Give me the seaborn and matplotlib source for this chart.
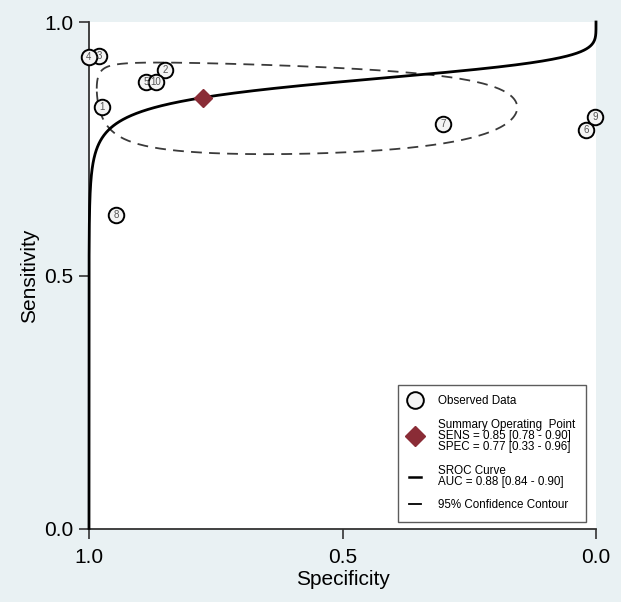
import numpy as np
import pandas as pd
import seaborn as sns
import matplotlib.pyplot as plt
from matplotlib.lines import Line2D

# observed studies
study_id = ["1", "2", "3", "4", "5", "6", "7", "8", "9", "10"]
specificity = [0.974, 0.850, 0.980, 1.000, 0.888, 0.020, 0.302, 0.947, 0.002, 0.868]
sensitivity = [0.832, 0.905, 0.933, 0.931, 0.882, 0.787, 0.799, 0.619, 0.813, 0.882]

# summary operating point and SROC / contour parameters (logit scale)
summary_sens = 0.851
summary_spec = 0.775
sroc_slope = 0.22
contour_half_spec = 2.93
contour_half_sens = 0.70
contour_rho = 0.21

legend_labels = [
    "Observed Data",
    "Summary Operating  Point\nSENS = 0.85 [0.78 - 0.90]\nSPEC = 0.77 [0.33 - 0.96]",
    "SROC Curve\nAUC = 0.88 [0.84 - 0.90]",
    "95% Confidence Contour",
]


def logit(p):
    return np.log(p / (1 - p))


def expit(x):
    return 1 / (1 + np.exp(-x))


plt.rcParams['font.family'] = ['Liberation Sans', 'DejaVu Sans']
bg = '#e9f1f3'
fig = plt.figure(figsize=(6.21, 6.02), dpi=100, facecolor=bg)
ax = fig.add_axes([89 / 621, 1 - 529 / 602, 507 / 621, 507 / 602])
ax.set_facecolor('white')

# SROC curve
lf = np.linspace(-40, 40, 4000)
curve_sens = expit(logit(summary_sens) + sroc_slope * (lf - logit(1 - summary_spec)))
curve_spec = 1 - expit(lf)
ax.plot(curve_spec, curve_sens, color='black', lw=2.0, zorder=3, clip_on=False)

# confidence contour
t = np.linspace(0, 2 * np.pi, 400)
cx = logit(summary_spec) + contour_half_spec * np.cos(t)
cy = logit(summary_sens) + contour_half_sens * (contour_rho * np.cos(t) + np.sqrt(1 - contour_rho ** 2) * np.sin(t))
ax.plot(expit(cx), expit(cy), color='#3a3a3a', lw=1.3, ls=(0, (6, 4)), zorder=2)

# observed data
df = pd.DataFrame({"spec": specificity, "sens": sensitivity, "id": study_id})
sns.scatterplot(data=df, x="spec", y="sens", ax=ax, s=125, marker='o',
                facecolor='#f4f4f4', edgecolor='black', linewidth=1.4,
                zorder=4, clip_on=False, legend=False)
for _, r in df.iterrows():
    ax.text(r["spec"], r["sens"], r["id"], ha='center', va='center',
            fontsize=7, color='#555555', zorder=5)

# summary point
ax.plot([summary_spec], [summary_sens], marker='D', ms=9, color='#8a2c36',
        ls='none', zorder=6)

ax.set_xlim(1, 0)
ax.set_ylim(0, 1)
ax.set_xticks([1.0, 0.5, 0.0])
ax.set_yticks([0.0, 0.5, 1.0])
ax.set_xticklabels(["1.0", "0.5", "0.0"])
ax.set_yticklabels(["0.0", "0.5", "1.0"])
for s in ['top', 'right']:
    ax.spines[s].set_visible(False)
for s in ['left', 'bottom']:
    ax.spines[s].set_color('#333333')
    ax.spines[s].set_linewidth(1.3)
ax.tick_params(direction='out', length=7, width=1.2, colors='#333333',
               labelsize=15, labelcolor='black', pad=4)
ax.tick_params(axis='x', pad=7)
ax.set_xlabel("Specificity", fontsize=15, labelpad=2)
ax.set_ylabel("Sensitivity", fontsize=15, labelpad=4)

handles = [
    Line2D([], [], marker='o', ls='none', ms=12, mfc='#f4f4f4', mec='black', mew=1.4),
    Line2D([], [], marker='D', ls='none', ms=10, color='#8a2c36'),
    Line2D([], [], color='black', lw=1.8),
    Line2D([], [], color='black', lw=1.3),
]
leg = ax.legend(handles, legend_labels, loc='lower right', bbox_to_anchor=(0.98, 0.014),
                fontsize=8.4, frameon=True, fancybox=False, edgecolor='#333333',
                handlelength=1.0, handletextpad=1.5, labelspacing=1.0,
                borderpad=0.9, borderaxespad=0)
leg.get_frame().set_linewidth(1.0)
for txt in leg.get_texts():
    txt.set_linespacing(0.9)

fig.savefig("out.png", dpi=100, facecolor=bg)
